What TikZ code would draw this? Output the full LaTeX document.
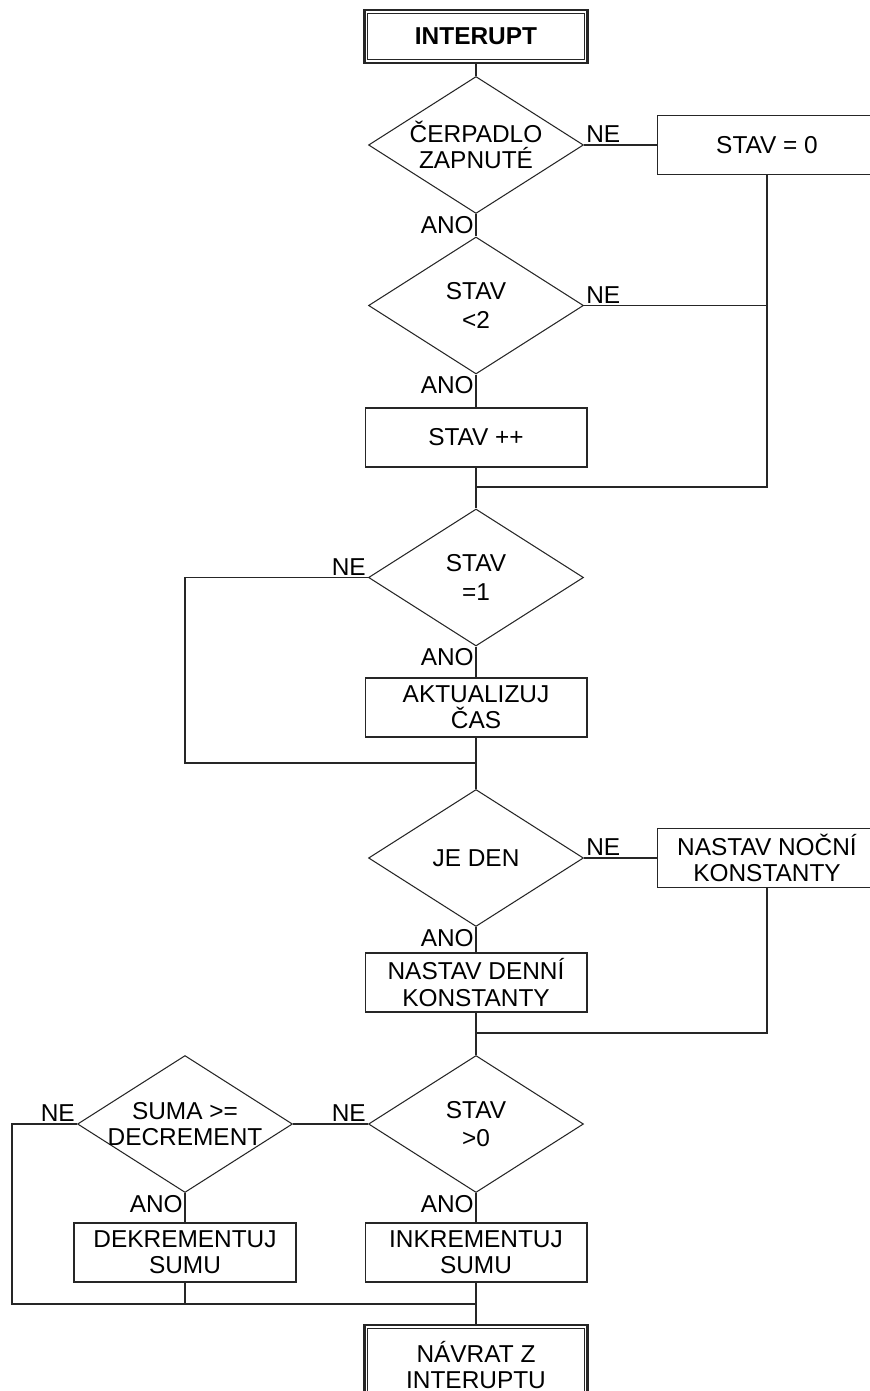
\documentclass[tikz,border=0pt]{standalone}
\usepackage{fontspec}
\setmainfont{Liberation Sans}
\usepackage{tikz}
\usetikzlibrary{shapes.geometric}
\tikzset{
  process/.style={rectangle, draw, minimum width=4.44cm, minimum height=1.18cm, inner sep=2pt, align=center},
  decision/.style={diamond, draw, aspect=1.57, minimum width=4.3cm, minimum height=2.74cm, inner sep=-3pt, align=center},
  terminal/.style={rectangle, draw, line width=1.6pt, minimum width=4.46cm, inner sep=2pt, align=center},
  answer/.style={inner sep=1pt},
  flow/.style={draw, line width=0.6pt},
}

\begin{document}
\begin{tikzpicture}[x=0.02cm, y=-0.02cm, line width=0.6pt, draw=black!85,
  font=\fontsize{13.9pt}{14.9pt}\selectfont]

  \useasboundingbox (0,0) rectangle (869,1391);

  %% === Main column, absolute coordinates (pixels) ===

  % Start
  \node[terminal, minimum height=1.06cm, font=\fontsize{13.9pt}{14.9pt}\selectfont\bfseries] at (476, 36.5) (int) {INTERUPT};
  \draw[flow] ([shift={(4.5,4.5)}]int.north west) rectangle ([shift={(-4.5,-4.5)}]int.south east);

  % Pump on?
  \node[decision] at (476, 145) (cerp) {ČERPADLO\\ZAPNUTÉ};
  \node[process, minimum width=4.4cm] at (767, 145) (stav0) {STAV = 0};
  \node[answer, anchor=south west] at (cerp.east) (neCerp) {NE};
  \node[answer, anchor=north east] at (cerp.south) (anoCerp) {ANO};

  % STAV < 2
  \node[decision] at (476, 305.5) (mensi) {STAV\\[1.5pt]<2};
  \node[answer, anchor=south west] at (mensi.east) (neMensi) {NE};
  \node[answer, anchor=north east] at (mensi.south) (anoMensi) {ANO};
  \node[process] at (476, 437.5) (inc) {STAV ++};
  \coordinate (j1) at (476, 487);

  % STAV = 1
  \node[decision] at (476, 577.5) (rovno) {STAV\\[1.5pt]=1};
  \node[answer, anchor=south east] at (rovno.west) (neRovno) {NE};
  \node[answer, anchor=north east] at (rovno.south) (anoRovno) {ANO};
  \node[process] at (476, 707.5) (akt) {AKTUALIZUJ\\ČAS};
  \coordinate (l3) at (185, 577.5);
  \coordinate (j2) at (476, 763);

  % Day / night
  \node[decision] at (476, 858) (den) {JE DEN};
  \node[answer, anchor=south west] at (den.east) (neDen) {NE};
  \node[answer, anchor=north east] at (den.south) (anoDen) {ANO};
  \node[process, minimum width=4.4cm] at (767, 858) (nocni) {NASTAV NOČNÍ\\KONSTANTY};
  \node[process] at (476, 982.5) (denni) {NASTAV DENNÍ\\KONSTANTY};
  \coordinate (j3) at (476, 1033);

  % STAV > 0
  \node[decision] at (476, 1124) (vetsi) {STAV\\[1.5pt]>0};
  \node[answer, anchor=south east] at (vetsi.west) (neVetsi) {NE};
  \node[answer, anchor=north east] at (vetsi.south) (anoVetsi) {ANO};
  \node[process] at (476, 1252.5) (ink) {INKREMENTUJ\\SUMU};

  % SUMA >= DECREMENT
  \node[decision] at (185, 1124) (suma) {SUMA >=\\DECREMENT};
  \node[answer, anchor=south east] at (suma.west) (neSuma) {NE};
  \node[answer, anchor=north east] at (suma.south) (anoSuma) {ANO};
  \node[process] at (185, 1252.5) (dek) {DEKREMENTUJ\\SUMU};
  \coordinate (l6) at (12, 1124);
  \coordinate (j4) at (476, 1304);

  % End
  \node[terminal, minimum height=1.6cm] at (476, 1365) (navrat) {NÁVRAT Z\\INTERUPTU};
  \draw[flow] ([shift={(4.5,4.5)}]navrat.north west) rectangle ([shift={(-4.5,-4.5)}]navrat.south east);

  %% === Connectors ===
  \draw[flow] (int) -- (cerp);
  \draw[flow] (cerp) -- (mensi);
  \draw[flow] (mensi) -- (inc);
  \draw[flow] (inc) -- (j1) -- (rovno);
  \draw[flow] (rovno) -- (akt);
  \draw[flow] (akt) -- (j2) -- (den);
  \draw[flow] (den) -- (denni);
  \draw[flow] (denni) -- (j3) -- (vetsi);
  \draw[flow] (vetsi) -- (ink);
  \draw[flow] (ink) -- (j4) -- (navrat);

  % NE branches
  \draw[flow] (cerp.east) -- (stav0);
  \draw[flow] (stav0) |- (j1);
  \draw[flow] (mensi.east) -- (mensi.east -| stav0.south);
  \draw[flow] (rovno.west) -- (l3) |- (j2);
  \draw[flow] (den.east) -- (nocni);
  \draw[flow] (nocni) |- (j3);
  \draw[flow] (vetsi.west) -- (suma.east);
  \draw[flow] (suma) -- (dek);
  \draw[flow] (dek) -- (dek |- j4);
  \draw[flow] (suma.west) -- (l6) |- (j4);

\end{tikzpicture}
\end{document}
